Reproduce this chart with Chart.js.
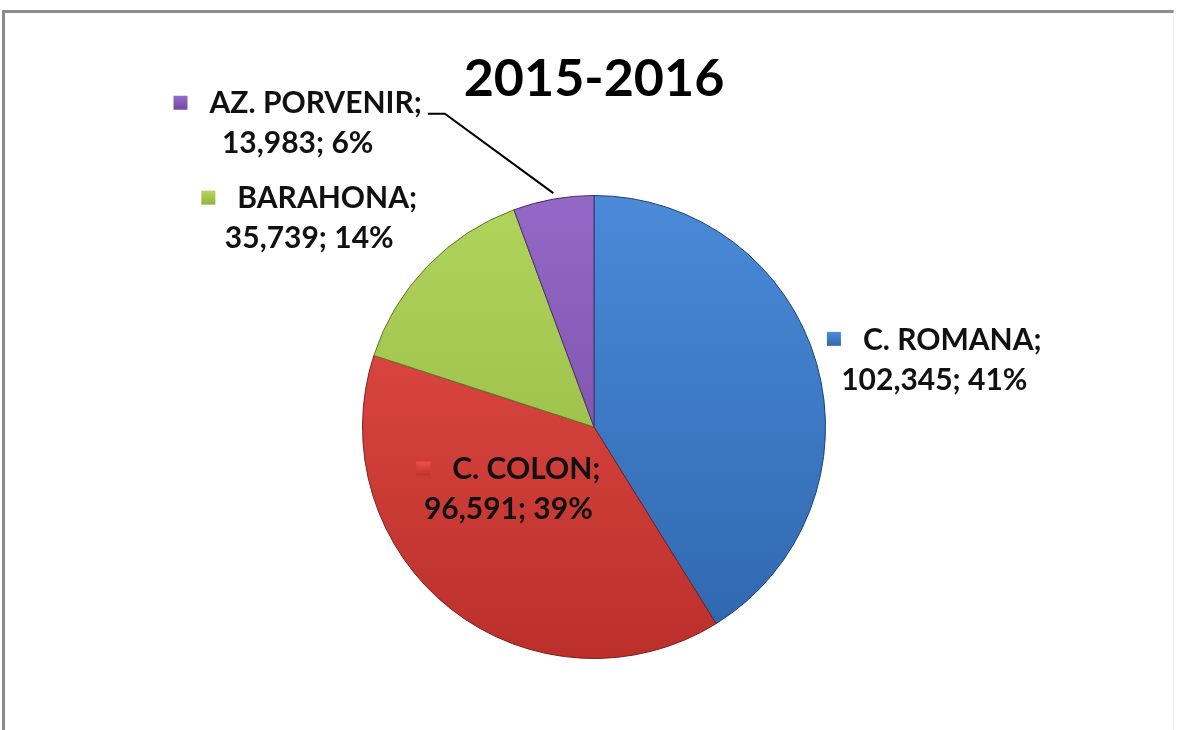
<!DOCTYPE html>
<html>
<head>
<meta charset="utf-8">
<script src="https://cdn.jsdelivr.net/npm/chart.js@4/dist/chart.umd.min.js"></script>
<style>
    html, body { margin: 0; padding: 0; background: #fff; }
    #wrap { position: relative; width: 1177px; height: 730px; overflow: hidden; }
    #frame {
        position: absolute; left: 2px; top: 10px; width: 1168px; height: 730px;
        border-top: 3px solid #8c8c8c; border-left: 3px solid #8c8c8c; border-right: 1px solid #f0f0f0;
        pointer-events: none;
    }
    canvas { position: absolute; left: 0; top: 0; }
</style>
</head>
<body>
<div id="wrap">
    <canvas id="pieChart" width="1177" height="730"></canvas>
    <div id="frame"></div>
</div>
<script>
var chartTitle = '2015-2016';
var categories = ['C. ROMANA', 'C. COLON', 'BARAHONA', 'AZ. PORVENIR'];
var values = [102345, 96591, 35739, 13983];

// slice colours: light (top) / dark (bottom)
var lightColors = ['#4a8ad8', '#e8504a', '#b0d45c', '#9468c6'];
var darkColors = ['#2e66ad', '#bb2f2b', '#8fb23f', '#6f479e'];
var edgeColors = ['#1f3f73', '#7a1f1d', '#5f7a2a', '#4a2f6e'];

// label block centres, in pie radii from the pie centre
var labelOffsets = [[1.47, -0.29], [-0.37, 0.27], [-1.23, -0.90], [-1.28, -1.31]];

var total = values.reduce(function (a, b) { return a + b; }, 0);

function sliceGradient(ctx, i) {
    var chart = ctx.chart;
    var area = chart.chartArea;
    if (!area) return lightColors[i];
    var g = chart.ctx.createLinearGradient(0, area.top, 0, area.bottom);
    g.addColorStop(0, lightColors[i]);
    g.addColorStop(1, darkColors[i]);
    return g;
}

var labelPlugin = {
    id: 'sliceLabels',
    afterDatasetsDraw: function (chart) {
        var ctx = chart.ctx;
        var arcs = chart.getDatasetMeta(0).data;
        ctx.save();
        ctx.font = 'bold 30px Lato';
        ctx.fillStyle = '#111';
        ctx.textBaseline = 'middle';
        arcs.forEach(function (arc, i) {
            var p = arc.getProps(['x', 'y', 'startAngle', 'endAngle', 'outerRadius'], true);
            var r = p.outerRadius;
            var cx = p.x + labelOffsets[i][0] * r;
            var cy = p.y + labelOffsets[i][1] * r;
            var line1 = categories[i] + ';';
            var pct = Math.round(values[i] / total * 100);
            var line2 = values[i].toLocaleString('en-US') + '; ' + pct + '%';
            var box = 14, gap = 22;
            var w1 = ctx.measureText(line1).width + box + gap;
            var x1 = cx - w1 / 2;
            var y1 = cy - 20, y2 = cy + 20;

            // marker square
            var mg = ctx.createLinearGradient(0, y1 - box / 2, 0, y1 + box / 2);
            mg.addColorStop(0, lightColors[i]);
            mg.addColorStop(1, darkColors[i]);
            ctx.fillStyle = mg;
            ctx.fillRect(x1, y1 - box / 2 - 1, box, box);
            ctx.fillStyle = '#111';
            ctx.textAlign = 'left';
            ctx.fillText(line1, x1 + box + gap, y1);
            ctx.textAlign = 'center';
            ctx.fillText(line2, cx, y2);

            // leader line for the small slice whose label sits away from it
            if (i === 3) {
                var mid = (p.startAngle + p.endAngle) / 2;
                var ex = p.x + Math.cos(mid) * r;
                var ey = p.y + Math.sin(mid) * r;
                var sx = x1 + w1 + 6, sy = y1 + 10;
                ctx.strokeStyle = '#000';
                ctx.lineWidth = 2;
                ctx.beginPath();
                ctx.moveTo(sx, sy);
                ctx.lineTo(sx + 17, sy);
                ctx.lineTo(ex, ey - 6);
                ctx.stroke();
            }
        });
        ctx.restore();
    }
};

var pieCtx = document.getElementById('pieChart').getContext('2d');
var pieChart = new Chart(pieCtx, {
    type: 'pie',
    data: {
        labels: categories,
        datasets: [{
            data: values,
            backgroundColor: function (ctx) { return sliceGradient(ctx, ctx.dataIndex); },
            borderColor: edgeColors,
            borderWidth: 1
        }]
    },
    options: {
        responsive: false,
        animation: false,
        layout: {
            padding: { top: 10, left: 362, right: 351, bottom: 71 }
        },
        plugins: {
            legend: { display: false },
            tooltip: { enabled: false },
            title: {
                display: true,
                text: chartTitle,
                color: '#000',
                font: { family: 'Lato', size: 52, weight: 'bold', lineHeight: 1.2 },
                padding: { top: 38, bottom: 84.6 }
            }
        }
    },
    plugins: [labelPlugin]
});
</script>
</body>
</html>
